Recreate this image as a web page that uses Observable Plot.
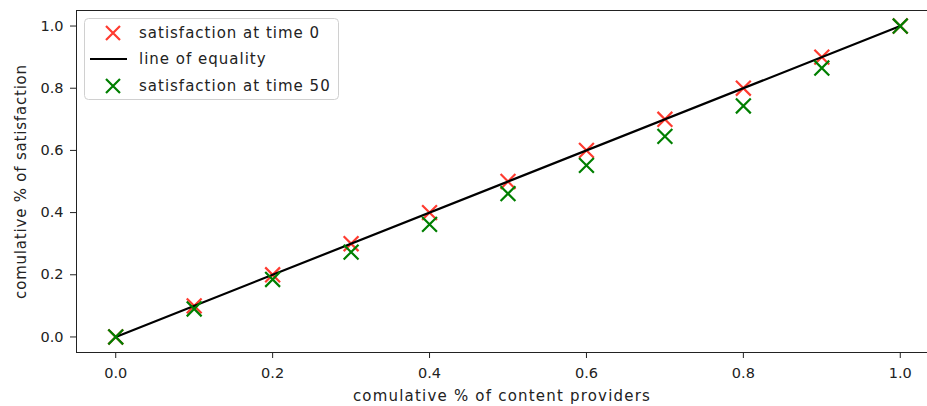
<!DOCTYPE html>
<html><head><meta charset="utf-8">
<script src="https://cdn.jsdelivr.net/npm/d3@7"></script>
<script src="https://cdn.jsdelivr.net/npm/@observablehq/plot@0.6"></script>
<style>
body{margin:0;background:#fff;}
#wrap{position:relative;width:927px;height:406px;font-family:"DejaVu Sans";}
#legend{position:absolute;left:84px;top:18px;}
#wrap g[aria-label="x-axis label"] text{font-size:15px;letter-spacing:1.2px;}
#wrap g[aria-label="y-axis label"] text{font-size:15px;letter-spacing:0.8px;}
</style></head>
<body><div id="wrap"></div>
<script>
// ---- data ----
const providerShare = [0.0, 0.1, 0.2, 0.3, 0.4, 0.5, 0.6, 0.7, 0.8, 0.9, 1.0];
const satisfactionT0 = [0.0, 0.1, 0.2, 0.3, 0.4, 0.5, 0.6, 0.7, 0.8, 0.9, 1.0];
const satisfactionT50 = [0.0, 0.09, 0.185, 0.273, 0.362, 0.461, 0.552, 0.645, 0.743, 0.865, 1.0];
const equalityLine = [0.0, 1.0];
const xTicks = [0.0, 0.2, 0.4, 0.6, 0.8, 1.0];
const yTicks = [0.0, 0.2, 0.4, 0.6, 0.8, 1.0];
const seriesLabels = ["satisfaction at time 0", "line of equality", "satisfaction at time 50"];
const seriesColors = ["#ff3b30", "#000000", "#007f00"];
const xLabel = "comulative % of content providers";
const yLabel = "comulative % of satisfaction";

const rowsT0 = providerShare.map((s, i) => ({x: s, y: satisfactionT0[i]}));
const rowsT50 = providerShare.map((s, i) => ({x: s, y: satisfactionT50[i]}));
const fmt = d3.format(".1f");

const chart = Plot.plot({
  width: 927, height: 406,
  marginLeft: 76, marginRight: 0, marginTop: 10, marginBottom: 54,
  style: {fontFamily: "DejaVu Sans", fontSize: "14.5px", color: "#222", background: "#fff"},
  x: {domain: [-0.05, 1.05], range: [76, 939], axis: null},
  y: {domain: [-0.05, 1.05], range: [352, 10], axis: null},
  marks: [
    Plot.axisX({ticks: xTicks, tickFormat: fmt, tickSize: 6, tickPadding: 9, stroke: "#222",
      label: xLabel, labelAnchor: "center", labelArrow: "none", labelOffset: 48}),
    Plot.axisY({ticks: yTicks, tickFormat: fmt, tickSize: 6, tickPadding: 7, stroke: "#222",
      label: yLabel, labelAnchor: "center", labelArrow: "none", labelOffset: 61}),
    Plot.dot(rowsT0, {x: "x", y: "y", symbol: "times", r: 6.8, stroke: seriesColors[0], strokeWidth: 2.2}),
    Plot.line(equalityLine, {x: d => d, y: d => d, stroke: seriesColors[1], strokeWidth: 2.2}),
    Plot.dot(rowsT50, {x: "x", y: "y", symbol: "times", r: 6.8, stroke: seriesColors[2], strokeWidth: 2.2}),
    Plot.frame({anchor: "left", stroke: "#222"}),
    Plot.frame({anchor: "top", stroke: "#222"}),
    Plot.frame({anchor: "bottom", stroke: "#222"})
  ]
});
const wrap = document.getElementById("wrap");
wrap.appendChild(chart);

// ---- legend ----
const lg = d3.create("svg").attr("id", "legend").attr("width", 256).attr("height", 83)
  .style("font-family", "DejaVu Sans").style("font-size", "15px").style("letter-spacing", "1px");
lg.append("rect").attr("x", 0.5).attr("y", 0.5).attr("width", 254).attr("height", 81).attr("rx", 4)
  .attr("fill", "rgba(255,255,255,0.8)").attr("stroke", "#d0d0d0");
const rowY = [15, 41, 68];
seriesLabels.forEach((lab, i) => {
  const g = lg.append("g").attr("transform", `translate(29,${rowY[i]})`);
  if (i === 1) {
    g.append("line").attr("x1", -23).attr("x2", 14).attr("stroke", seriesColors[i]).attr("stroke-width", 2.2);
  } else {
    g.append("path").attr("d", "M-7,-7L7,7M-7,7L7,-7").attr("stroke", seriesColors[i]).attr("stroke-width", 2.2);
  }
  lg.append("text").attr("x", 55).attr("y", rowY[i]).attr("dy", "0.35em").attr("fill", "#222").text(lab);
});
wrap.appendChild(lg.node());
</script>
</body></html>
